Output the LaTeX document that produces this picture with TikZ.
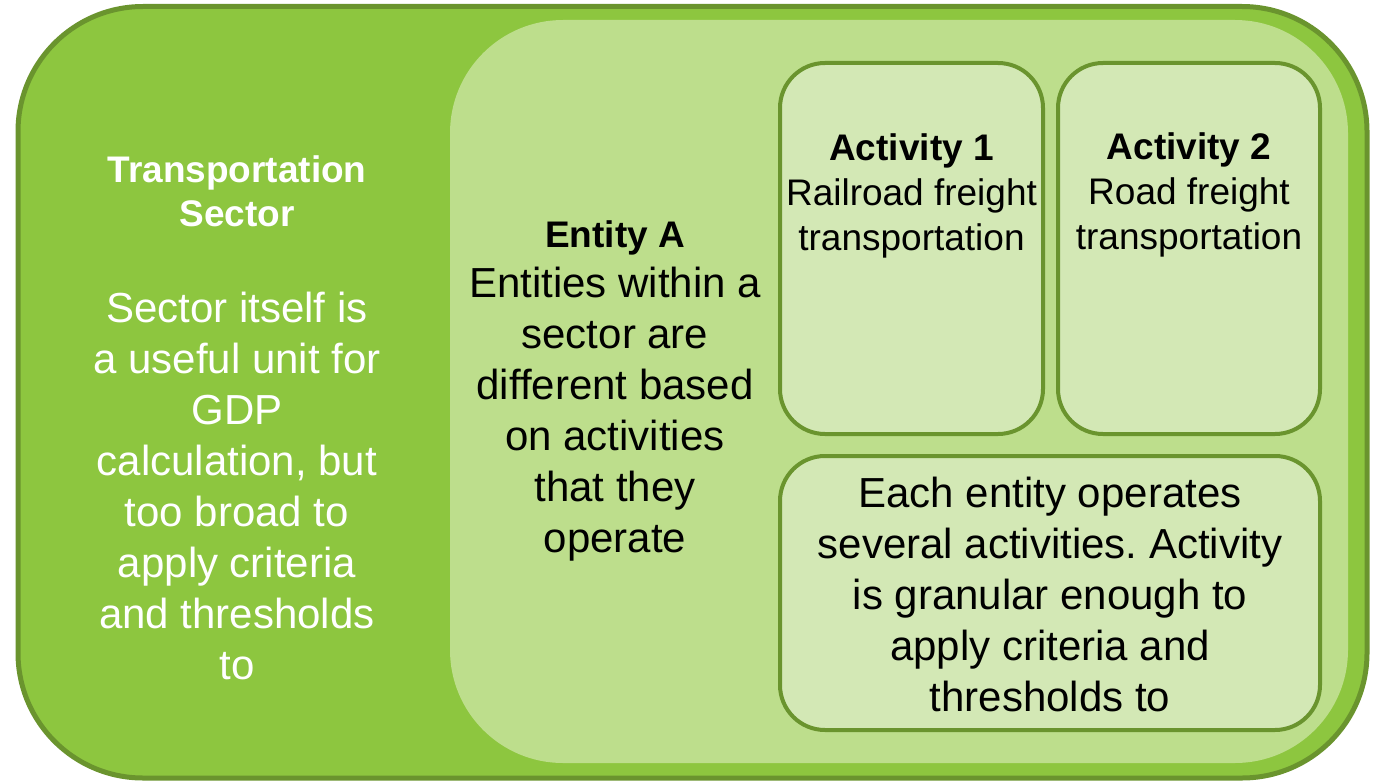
\documentclass[tikz,border=0pt]{standalone}
\usepackage{fontspec}
\setmainfont{Liberation Sans}
\frenchspacing
\definecolor{sectorfill}{RGB}{141,198,63}
\definecolor{entityfill}{RGB}{189,222,140}
\definecolor{activityfill}{RGB}{211,232,181}
\definecolor{edgegreen}{RGB}{106,148,46}
\tikzset{
  sectorbox/.style={fill=sectorfill, draw=edgegreen, line width=5pt, rounded corners=125pt},
  entitybox/.style={fill=entityfill, rounded corners=113pt},
  activitybox/.style={fill=activityfill, draw=edgegreen, line width=4pt, rounded corners=45pt},
  bigtext/.style={align=center, inner sep=0pt, font=\fontsize{42}{51}\selectfont},
  headtext/.style={align=center, inner sep=0pt, font=\fontsize{37}{44}\selectfont\bfseries},
  acttext/.style={align=center, inner sep=0pt, font=\fontsize{37}{45}\selectfont},
}
\begin{document}
\begin{tikzpicture}[x=1pt, y=-1pt]
  \useasboundingbox (0,0) rectangle (1381,781);

  % nested boxes
  \draw[sectorbox] (18,6.5) rectangle (1367,778);
  \fill[entitybox] (450,20) rectangle (1348,763);
  \draw[activitybox] (780,63) rectangle (1043,434);
  \draw[activitybox] (1058,63) rectangle (1320,434);
  \draw[activitybox] (780,456) rectangle (1320,730);

  % sector column
  \node[headtext, text=white, anchor=north] (sectorhead) at (237,155)
    {Transportation\\Sector};
  \node[bigtext, text=white, anchor=north] (sectorbody) at (237,292)
    {Sector itself is\\a useful unit for\\GDP\\calculation, but\\too broad to\\apply criteria\\and thresholds\\to};

  % entity column
  \node[headtext, anchor=north] (entityhead) at (615,220) {Entity A};
  \node[bigtext, anchor=north] (entitybody) at (615,267)
    {Entities within a\\sector are\\different based\\on activities\\that they\\operate};

  % activities
  \node[headtext, anchor=north] (act1head) at (911.5,133) {Activity 1};
  \node[acttext, anchor=north] (act1body) at (911.5,178) {Railroad freight\\transportation};
  \node[headtext, anchor=north] (act2head) at (1189,132) {Activity 2};
  \node[acttext, anchor=north] (act2body) at (1189,177) {Road freight\\transportation};

  \node[bigtext, anchor=north] (actnote) at (1050,477)
    {Each entity operates\\several activities. Activity\\is granular enough to\\apply criteria and\\thresholds to};
\end{tikzpicture}
\end{document}
